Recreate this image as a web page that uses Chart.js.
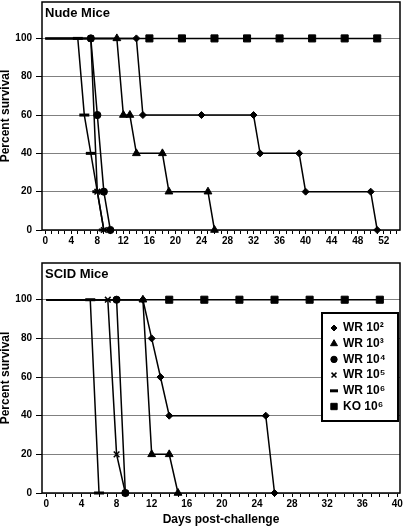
<!DOCTYPE html>
<html>
<head>
<meta charset="utf-8">
<script src="https://cdn.jsdelivr.net/npm/chart.js@4.4.0/dist/chart.umd.min.js"></script>
<style>
  body { margin: 0; background: #fff; }
  #wrap { position: relative; width: 403px; height: 530px; }
  canvas { position: absolute; left: 0; }
  #nude { top: 0; }
  #scid { top: 250px; }
</style>
</head>
<body>
<div id="wrap">
  <canvas id="nude" width="403" height="250"></canvas>
  <canvas id="scid" width="403" height="280"></canvas>
</div>
<script>
const seriesNames = ['WR 10²', 'WR 10³', 'WR 10⁴', 'WR 10⁵', 'WR 10⁶', 'KO 10⁶'];

// Nude mice - day post-challenge and percent survival
const nudeWR2Days = [0, 14, 15, 24, 32, 33, 39, 40, 50, 51];
const nudeWR2Surv = [100, 100, 60, 60, 60, 40, 40, 20, 20, 0];
const nudeWR3Days = [0, 11, 12, 13, 14, 18, 19, 25, 26];
const nudeWR3Surv = [100, 100, 60, 60, 40, 40, 20, 20, 0];
const nudeWR4Days = [0, 7, 8, 9, 10];
const nudeWR4Surv = [100, 100, 60, 20, 0];
const nudeWR5Days = [0, 7, 8, 9];
const nudeWR5Surv = [100, 100, 20, 0];
const nudeWR6Days = [0, 5, 6, 7, 8, 9];
const nudeWR6Surv = [100, 100, 60, 40, 20, 0];
const nudeKODays = [0, 16, 21, 26, 31, 36, 41, 46, 51];
const nudeKOSurv = [100, 100, 100, 100, 100, 100, 100, 100, 100];

// SCID mice
const scidWR2Days = [0, 11, 12, 13, 14, 25, 26];
const scidWR2Surv = [100, 100, 80, 60, 40, 40, 0];
const scidWR3Days = [0, 11, 12, 14, 15];
const scidWR3Surv = [100, 100, 20, 20, 0];
const scidWR4Days = [0, 8, 9];
const scidWR4Surv = [100, 100, 0];
const scidWR5Days = [0, 7, 8, 9];
const scidWR5Surv = [100, 100, 20, 0];
const scidWR6Days = [0, 5, 6];
const scidWR6Surv = [100, 100, 0];
const scidKODays = [0, 14, 18, 22, 26, 30, 34, 38];
const scidKOSurv = [100, 100, 100, 100, 100, 100, 100, 100];

const yTicks = [0, 20, 40, 60, 80, 100];
const nudeXLabels = [0, 4, 8, 12, 16, 20, 24, 28, 32, 36, 40, 44, 48, 52];
const scidXLabels = [0, 4, 8, 12, 16, 20, 24, 28, 32, 36, 40];

const FONT = "Arial, 'Liberation Sans', sans-serif";

const marks = [
  { style: 'rectRot', r: 3.5, bw: 1, lr: 3 },
  { style: 'triangle', r: 4.5, bw: 1, lr: 4 },
  { style: 'circle', r: 3.6, bw: 1, lr: 3.2 },
  { style: 'crossRot', r: 4, bw: 1.5, lr: 3.5 },
  { style: 'line', r: 5, bw: 3, lr: 4 },
  { style: 'rect', r: 5, bw: 1, lr: 4.5 }
];

function makeSets(days, surv) {
  return days.map((d, i) => ({
    label: seriesNames[i],
    data: d.map((x, j) => ({ x: x, y: surv[i][j] })),
    borderColor: '#000',
    backgroundColor: '#000',
    borderWidth: 1.5,
    pointStyle: marks[i].style,
    pointRadius: ctx => ctx.dataIndex === 0 ? 0 : marks[i].r,
    pointHoverRadius: ctx => ctx.dataIndex === 0 ? 0 : marks[i].r,
    pointBorderWidth: marks[i].bw,
    pointBackgroundColor: '#000',
    pointBorderColor: '#000',
    tension: 0,
    fill: false,
    clip: false
  }));
}

function noPad(s) {
  s.paddingTop = 0;
  s.paddingBottom = 0;
  s.paddingLeft = 0;
  s.paddingRight = 0;
}

function makeScales(xMax, xLabels, xHeight, xTitle) {
  const minor = [];
  for (let d = 0; d <= Math.floor(xMax); d++) minor.push(d);
  return {
    x: {
      type: 'linear',
      min: -0.5,
      max: xMax,
      afterBuildTicks: s => { s.ticks = minor.map(v => ({ value: v })); },
      afterFit: s => { s.height = xHeight; noPad(s); },
      ticks: {
        autoSkip: false,
        maxRotation: 0,
        padding: 1,
        color: '#000',
        font: { family: FONT, size: 10, weight: 'bold' },
        callback: v => xLabels.includes(v) ? String(v) : ''
      },
      grid: { drawOnChartArea: false, color: '#000', tickLength: 4, lineWidth: 1 },
      border: { display: false },
      title: {
        display: !!xTitle,
        text: xTitle || '',
        color: '#000',
        font: { family: FONT, size: 12, weight: 'bold', lineHeight: 1 },
        padding: { top: 0, bottom: 4 }
      }
    },
    y: {
      min: 0,
      max: 119,
      afterBuildTicks: s => { s.ticks = yTicks.map(v => ({ value: v })); },
      afterFit: s => { s.width = 42; noPad(s); },
      ticks: { padding: 4, color: '#000', font: { family: FONT, size: 10, weight: 'bold' } },
      grid: { color: '#808080', tickColor: '#000', tickLength: 6, lineWidth: 1 },
      border: { display: false },
      title: {
        display: true,
        text: 'Percent survival',
        color: '#000',
        font: { family: FONT, size: 12, weight: 'bold', lineHeight: 1 },
        padding: { top: 0, bottom: 0 }
      }
    }
  };
}

const framePlugin = {
  id: 'frame',
  beforeDatasetsDraw(chart, args, opts) {
    const { ctx, chartArea: a } = chart;
    ctx.save();
    ctx.strokeStyle = '#000';
    ctx.lineWidth = 1.5;
    ctx.strokeRect(a.left, a.top, a.right - a.left, a.bottom - a.top);
    ctx.restore();
  },
  afterDraw(chart, args, opts) {
    const { ctx, chartArea: a } = chart;
    ctx.save();
    ctx.fillStyle = '#000';
    ctx.font = 'bold 13px ' + FONT;
    ctx.textBaseline = 'middle';
    ctx.fillText(opts.text, a.left + 3, a.top + 11);
    ctx.restore();
  }
};

const legendBox = {
  id: 'legendBox',
  afterDraw(chart) {
    const ctx = chart.ctx;
    const bx = 322, by = 63, bw = 76, bh = 108;
    ctx.save();
    ctx.fillStyle = '#fff';
    ctx.fillRect(bx, by, bw, bh);
    ctx.strokeStyle = '#000';
    ctx.lineWidth = 2;
    ctx.strokeRect(bx, by, bw, bh);
    ctx.font = 'bold 12px ' + FONT;
    ctx.textBaseline = 'middle';
    chart.data.datasets.forEach((ds, i) => {
      const y = by + 15 + i * 15.7;
      ctx.fillStyle = '#000';
      ctx.strokeStyle = '#000';
      ctx.lineWidth = marks[i].bw;
      Chart.helpers.drawPoint(ctx, {
        pointStyle: marks[i].style, rotation: 0, radius: marks[i].lr, borderWidth: marks[i].bw
      }, 334, y);
      ctx.fillText(ds.label, 343, y);
    });
    ctx.restore();
  }
};

new Chart(document.getElementById('nude'), {
  type: 'line',
  data: {
    datasets: makeSets(
      [nudeWR2Days, nudeWR3Days, nudeWR4Days, nudeWR5Days, nudeWR6Days, nudeKODays],
      [nudeWR2Surv, nudeWR3Surv, nudeWR4Surv, nudeWR5Surv, nudeWR6Surv, nudeKOSurv]
    )
  },
  options: {
    responsive: false,
    animation: false,
    layout: { autoPadding: false, padding: { top: 2, right: 3, left: 0, bottom: 0 } },
    scales: makeScales(54.5, nudeXLabels, 20, null),
    plugins: {
      legend: { display: false },
      tooltip: { enabled: false },
      frame: { text: 'Nude Mice' }
    }
  },
  plugins: [framePlugin]
});

new Chart(document.getElementById('scid'), {
  type: 'line',
  data: {
    datasets: makeSets(
      [scidWR2Days, scidWR3Days, scidWR4Days, scidWR5Days, scidWR6Days, scidKODays],
      [scidWR2Surv, scidWR3Surv, scidWR4Surv, scidWR5Surv, scidWR6Surv, scidKOSurv]
    )
  },
  options: {
    responsive: false,
    animation: false,
    layout: { autoPadding: false, padding: { top: 13, right: 3, left: 0, bottom: 0 } },
    scales: makeScales(40.3, scidXLabels, 37, 'Days post-challenge'),
    plugins: {
      legend: { display: false },
      tooltip: { enabled: false },
      frame: { text: 'SCID Mice' }
    }
  },
  plugins: [framePlugin, legendBox]
});
</script>
</body>
</html>
